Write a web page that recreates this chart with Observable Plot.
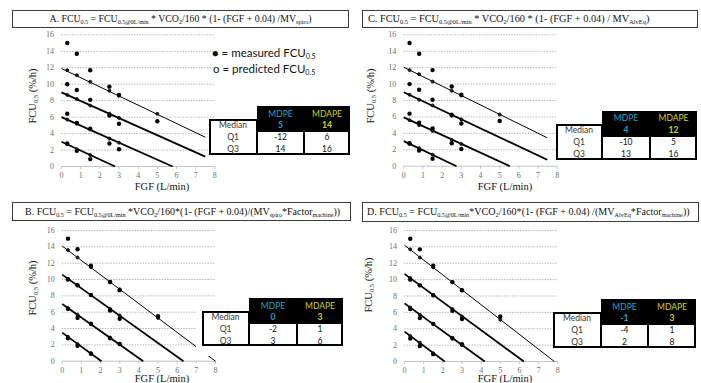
<!DOCTYPE html>
<html><head><meta charset="utf-8">
<script src="https://cdn.jsdelivr.net/npm/d3@7"></script>
<script src="https://cdn.jsdelivr.net/npm/@observablehq/plot@0.6"></script>
<style>
body{margin:0;background:#fff;}
#root{position:relative;width:701px;height:383px;overflow:hidden;background:#fff;}
.title{position:absolute;box-sizing:border-box;border:1px solid #3a3a3a;font-family:"Liberation Serif","Times New Roman",serif;font-size:10px;white-space:nowrap;color:#111;background:#fff;overflow:hidden;}
sub{font-size:0.62em;vertical-align:-0.32em;line-height:0;}
.ax{position:absolute;font-family:"Liberation Serif","Times New Roman",serif;font-size:10.5px;color:#111;white-space:nowrap;transform:translate(-50%,-50%);}
.ay{position:absolute;font-family:"Liberation Serif","Times New Roman",serif;font-size:10.5px;color:#111;white-space:nowrap;transform:translate(-50%,-50%) rotate(-90deg);}
.leg{position:absolute;font-family:Lato,"Open Sans",sans-serif;font-size:11.5px;color:#111;white-space:nowrap;}
.tbl{position:absolute;font-family:Lato,"Open Sans",sans-serif;font-size:8.5px;}
.tbl div{position:absolute;box-sizing:border-box;}
.cell{display:flex;align-items:center;justify-content:center;}
svg{position:absolute;}
</style></head>
<body><div id="root"></div>
<script>
// ---- data ----
const xTicks = [0,1,2,3,4,5,6,7,8];
const yTicks = [0,2,4,6,8,10,12,14,16];
const fgfMeasured = [0.3,0.8,1.5,2.5,3,5, 0.3,0.8,1.5,2.5,3, 0.3,0.8,1.5,2.5,3, 0.3,0.8,1.5];
const fcuMeasured = [15,13.7,11.7,9.7,8.7,5.5, 10,9.3,8.1,6.2,5.2, 6.4,5.3,4.6,2.8,2.1, 2.8,1.9,0.9];
const predA = [11.7,11.1,10.3,9.2,8.6,6.4, 8.7,8.2,7.4,6.4,5.9, 5.7,5.2,4.5,3.4,2.9, 2.7,2.1,1.4];
const predB = [13.6,12.7,11.5,9.7,8.8,5.3, 10.1,9.3,8.1,6.4,5.6, 6.5,5.7,4.5,2.9,2.1, 3.0,2.1,1.0];
const predC = [11.7,11.2,10.3,9.2,8.6,6.3, 8.7,8.1,7.4,6.3,5.7, 5.6,5.0,4.3,3.2,2.7, 2.7,2.2,1.4];
const predD = [13.7,12.7,11.5,9.7,8.7,5.1, 10.2,9.3,8.1,6.4,5.5, 6.6,5.7,4.6,2.9,2.0, 3.1,2.3,1.0];
// fitted lines: value at FGF 0, end FGF, end value
const lineStartA = [11.9,9.0,6.0,3.0],  lineEndXA = [7.5,7.5,5.8,2.8],   lineEndYA = [3.56,1.2,0,0];
const lineStartB = [14.1,10.6,7.0,3.5], lineEndXB = [8.0,6.33,4.23,2.05], lineEndYB = [0,0,0,0];
const lineStartC = [12.05,9.0,5.95,3.05], lineEndXC = [7.48,7.48,5.53,2.75], lineEndYC = [3.46,0.78,0,0];
const lineStartD = [14.2,10.7,7.1,3.65], lineEndXD = [7.82,6.23,4.19,2.1], lineEndYD = [0,0,0,0];
const rowLabels = ["Median","Q1","Q3"];
const colLabels = ["MDPE","MDAPE"];
const mdpeA = [5,-12,14],  mdapeA = [14,6,16];
const mdpeB = [0,-2,3],    mdapeB = [3,1,6];
const mdpeC = [4,-10,13],  mdapeC = [12,5,16];
const mdpeD = [-1,-4,2],   mdapeD = [3,1,8];
const titleA = 'A. FCU<sub>0.5</sub> = FCU<sub>0.5@0L/min</sub> * VCO<sub>2</sub>/160 * (1- (FGF + 0.04) /MV<sub>spiro</sub>)';
const titleB = 'B. FCU<sub>0.5</sub> = FCU<sub>0.5@0L/min</sub> *VCO<sub>2</sub>/160*(1- (FGF + 0.04)/(MV<sub>spiro</sub>*Factor<sub>machine</sub>))';
const titleC = 'C. FCU<sub>0.5</sub> = FCU<sub>0.5@0L/min</sub> * VCO<sub>2</sub>/160 * (1- (FGF + 0.04) / MV<sub>AlvEq</sub>)';
const titleD = 'D. FCU<sub>0.5</sub> = FCU<sub>0.5@0L/min</sub>*VCO<sub>2</sub>/160*(1- (FGF + 0.04) /(MV<sub>AlvEq</sub>*Factor<sub>machine</sub>))';
const xLabel = 'FGF (L/min)';
const yLabel = 'FCU<sub>0.5</sub> (%/h)';
const legend1 = '<span style="font-size:11px">&#9679;</span> = measured FCU<sub>0.5</sub>';
const legend2 = 'o = predicted FCU<sub>0.5</sub>';

// ---- layout ----
const root = document.getElementById('root');
function add(html){ const d=document.createElement('div'); d.innerHTML=html; const el=d.firstElementChild; root.appendChild(el); return el; }

const panels = [
  {pred:predA, ls:lineStartA, lx:lineEndXA, ly:lineEndYA, title:titleA, mdpe:mdpeA, mdape:mdapeA,
   svg:{left:0,top:0,w:350,h:190,mL:61,mR:135.7,mT:34.3,mB:24},
   tbox:{left:12,top:10,w:337,h:18,align:'center',pad:0,fs:9.8},
   xl:[162,186], yl:[32,96],
   tab:{left:209,top:106,cw:[48,47,46],rh:[13,12,12,12],halo:false}},
  {pred:predC, ls:lineStartC, lx:lineEndXC, ly:lineEndYC, title:titleC, mdpe:mdpeC, mdape:mdapeC,
   svg:{left:350,top:0,w:350,h:190,mL:53.3,mR:143.3,mT:34.3,mB:24.3},
   tbox:{left:362,top:10,w:336,h:18,align:'left',pad:5,fs:10.3},
   xl:[505,186], yl:[370,96],
   tab:{left:556,top:111,cw:[46,48,47],rh:[12.5,12,12,12],halo:false}},
  {pred:predB, ls:lineStartB, lx:lineEndXB, ly:lineEndYB, title:titleB, mdpe:mdpeB, mdape:mdapeB,
   svg:{left:0,top:190,w:350,h:193,mL:61.7,mR:135,mT:40,mB:22.3},
   tbox:{left:12,top:202,w:339,h:19,align:'left',pad:12,fs:10},
   xl:[162,378], yl:[32,288],
   tab:{left:202,top:298,cw:[47,48,46],rh:[13,12,12,11],halo:true}},
  {pred:predD, ls:lineStartD, lx:lineEndXD, ly:lineEndYD, title:titleD, mdpe:mdpeD, mdape:mdapeD,
   svg:{left:350,top:190,w:351,h:193,mL:54,mR:143.7,mT:40,mB:22},
   tbox:{left:362,top:202,w:337,h:20,align:'left',pad:4,fs:10.1},
   xl:[505,378], yl:[368,285],
   tab:{left:553,top:299,cw:[48,47,48],rh:[13,12,12,12],halo:false}}
];

const serif = '"Liberation Serif", "Times New Roman", serif';

panels.forEach((p)=>{
  const meas = fgfMeasured.map((x,i)=>({x, y:fcuMeasured[i]}));
  const pred = fgfMeasured.map((x,i)=>({x, y:p.pred[i]}));
  const lines = p.ls.map((y0,i)=>({x1:0, y1:y0, x2:p.lx[i], y2:p.ly[i], k:i}));
  const s = p.svg;
  const chart = Plot.plot({
    width:s.w, height:s.h, marginLeft:s.mL, marginRight:s.mR, marginTop:s.mT, marginBottom:s.mB,
    style:{background:'transparent', fontFamily:serif, fontSize:'8px', color:'#6e6e6e', overflow:'visible'},
    x:{domain:[0,8]}, y:{domain:[0,16]},
    marks:[
      Plot.gridY(yTicks.filter(d=>d>0), {stroke:'#b8b8b8', strokeOpacity:1, strokeDasharray:'1.5,1.2'}),
      Plot.axisY(yTicks, {tickSize:0, tickPadding:7.5, label:null, fontSize:8, fontFamily:serif}),
      Plot.axisX(xTicks, {tickSize:3, tickPadding:3, label:null, stroke:'#c4c4c4', fontSize:8, fontFamily:serif}),
      Plot.ruleY([0], {stroke:'#c4c4c4'}),
      Plot.link(lines.filter(d=>d.k===0), {x1:'x1',y1:'y1',x2:'x2',y2:'y2', stroke:'#000', strokeWidth:1}),
      Plot.link(lines.filter(d=>d.k>0), {x1:'x1',y1:'y1',x2:'x2',y2:'y2', stroke:'#000', strokeWidth:1.8}),
      Plot.dot(pred, {x:'x', y:'y', r:1.5, stroke:'#000', strokeWidth:0.8, fill:'#222'}),
      Plot.dot(meas, {x:'x', y:'y', r:2.2, fill:'#000'})
    ]
  });
  chart.style.left = s.left+'px';
  chart.style.top = s.top+'px';
  root.appendChild(chart);

  const t = p.tbox;
  add(`<div class="title" style="left:${t.left}px;top:${t.top}px;width:${t.w}px;height:${t.h}px;line-height:${t.h-2}px;text-align:${t.align};padding-left:${t.pad}px;font-size:${t.fs}px">${p.title}</div>`);
  add(`<div class="ax" style="left:${p.xl[0]}px;top:${p.xl[1]}px">${xLabel}</div>`);
  add(`<div class="ay" style="left:${p.yl[0]}px;top:${p.yl[1]}px">${yLabel}</div>`);

  // table
  const tb = p.tab, cw = tb.cw, rh = tb.rh;
  const W = cw[0]+cw[1]+cw[2], H = rh[0]+rh[1]+rh[2]+rh[3];
  let h = `<div class="tbl" style="left:${tb.left}px;top:${tb.top}px;width:${W}px;height:${H}px">`;
  if (tb.halo) h += `<div style="left:-6px;top:0;width:${W+6}px;height:${H+10}px;background:#fff"></div>`;
  h += `<div style="left:${cw[0]}px;top:0;width:${cw[1]+cw[2]}px;height:${rh[0]+rh[1]}px;background:#000"></div>`;
  h += `<div style="left:0;top:${rh[0]}px;width:${cw[0]+1}px;height:${H-rh[0]}px;border:2px solid #000;background:#fff"></div>`;
  h += `<div style="left:${cw[0]-1}px;top:${rh[0]+rh[1]-1}px;width:${cw[1]+2}px;height:${rh[2]+rh[3]+1}px;border:2px solid #000;background:#fff"></div>`;
  h += `<div style="left:${cw[0]+cw[1]-1}px;top:${rh[0]+rh[1]-1}px;width:${cw[2]+1}px;height:${rh[2]+rh[3]+1}px;border:2px solid #000;background:#fff"></div>`;
  const colors = ['#1ea6c8','#d2d21a'];
  const xs = [0, cw[0], cw[0]+cw[1]];
  const ys = [0, rh[0], rh[0]+rh[1], rh[0]+rh[1]+rh[2]];
  colLabels.forEach((c,j)=>{ h += `<div class="cell" style="left:${xs[j+1]}px;top:${ys[0]+1}px;width:${cw[j+1]}px;height:${rh[0]}px;color:${colors[j]}">${c}</div>`; });
  rowLabels.forEach((r,i)=>{
    h += `<div class="cell" style="left:0;top:${ys[i+1]}px;width:${cw[0]}px;height:${rh[i+1]}px;color:#333">${r}</div>`;
    const v = [p.mdpe[i], p.mdape[i]];
    v.forEach((val,j)=>{
      const col = i===0 ? colors[j] : '#111';
      const fw = i===0 ? 'bold' : 'normal';
      h += `<div class="cell" style="left:${xs[j+1]}px;top:${ys[i+1]}px;width:${cw[j+1]}px;height:${rh[i+1]}px;color:${col};font-weight:${fw}">${val}</div>`;
    });
  });
  h += `</div>`;
  add(h);
});

add(`<div class="leg" style="left:212px;top:46px">${legend1}</div>`);
add(`<div class="leg" style="left:213px;top:62px">${legend2}</div>`);
</script>
</body></html>
